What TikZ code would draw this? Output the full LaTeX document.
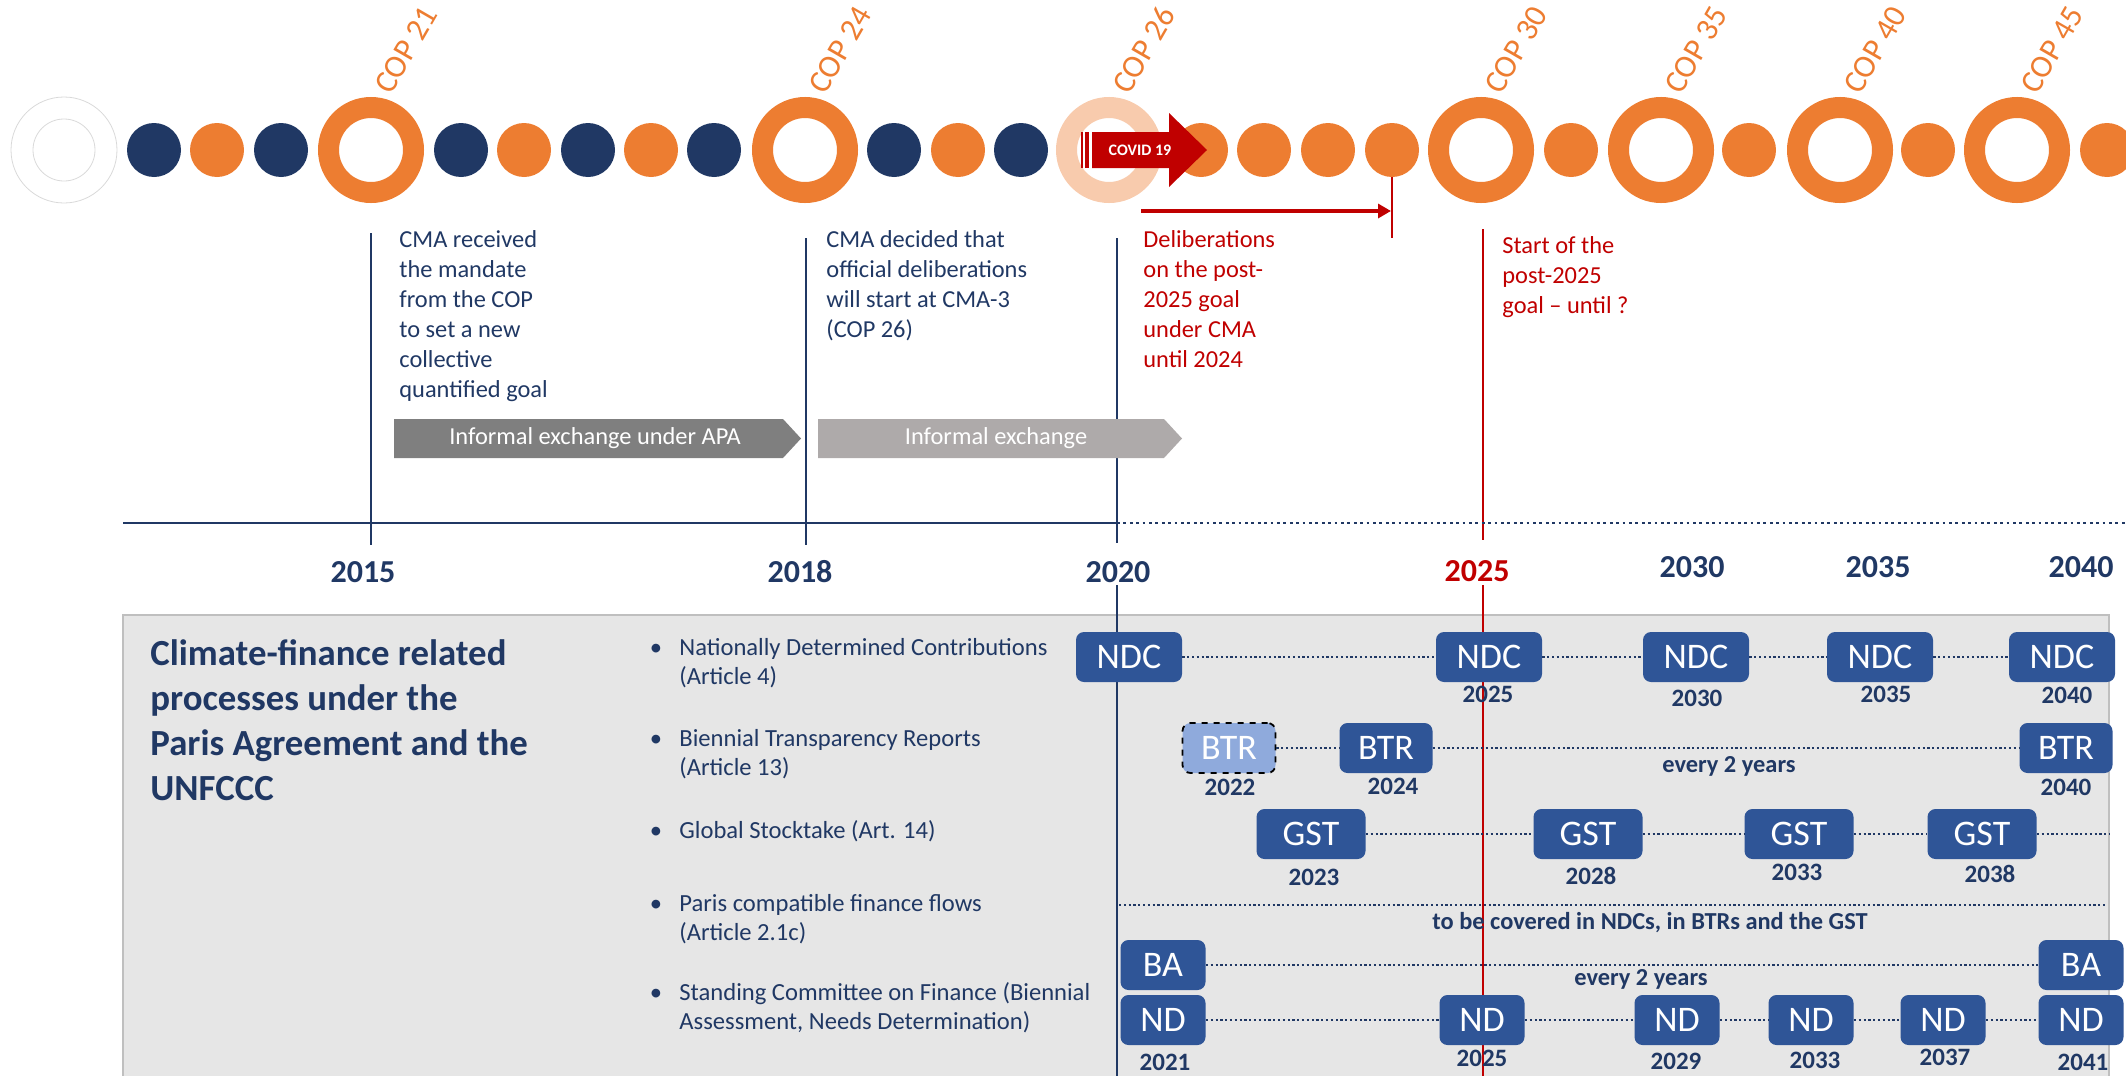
\documentclass[tikz,border=0pt]{standalone}
\usepackage{fontspec}
\setmainfont{Carlito}
\usetikzlibrary{arrows.meta}
\definecolor{navy}{HTML}{203864}
\definecolor{cop}{HTML}{ED7D31}
\definecolor{peach}{HTML}{F8CBAD}
\definecolor{darkred}{HTML}{C00000}
\definecolor{boxblue}{HTML}{2F5597}
\definecolor{lightbtr}{HTML}{8FAADC}
\definecolor{greyA}{HTML}{7F7F7F}
\definecolor{greyB}{HTML}{AEAAAA}
\definecolor{panelfill}{HTML}{E6E6E6}
\definecolor{panelline}{HTML}{BFBFBF}
\newcommand{\setfs}[2]{\fontsize{#1}{#2}\selectfont}
\begin{document}
\begin{tikzpicture}[x=0.5pt,y=-0.5pt,
 ring/.style={circle, fill=white, line width=10.5pt, minimum size=42.5pt, inner sep=0},
 smallc/.style={circle, minimum size=27pt, inner sep=0},
 coplabel/.style={rotate=60, anchor=base west, text=cop, font=\setfs{16}{19}, inner sep=0},
 toptext/.style={anchor=base west, align=left, inner sep=0, font=\setfs{12.2}{15}},
 chevtext/.style={text=white, font=\setfs{12.2}{15}, inner sep=0},
 axisyear/.style={font=\setfs{16}{19}\bfseries, text=navy, inner sep=0},
 vline/.style={navy, line width=1.2pt},
 pbox/.style={rounded corners=4pt, fill=boxblue, text=white, font=\setfs{18}{21}, minimum height=25pt, inner sep=0},
 ylab/.style={text=navy, font=\setfs{12.5}{15}\bfseries, inner sep=0},
 dotc/.style={navy, line width=1.1pt, dash pattern=on 1.1pt off 1.3pt},
 note/.style={text=navy, font=\setfs{12.2}{15}\bfseries, anchor=base, inner sep=0},
 item/.style={anchor=base west, align=left, text=navy, font=\setfs{12.3}{14.5}, inner sep=0},
 bul/.style={anchor=base, text=navy, font=\setfs{12.3}{14.5}, inner sep=0},
]
\useasboundingbox (0,0) rectangle (2126,1076);
\clip (0,0) rectangle (2126,1076);

% ---------- top row of circles ----------
\node[circle, draw=black!15, line width=0.4pt, minimum size=53pt, inner sep=0] (ghostout) at (64,150) {};
\node[circle, draw=black!15, line width=0.4pt, minimum size=31pt, inner sep=0] (ghostin) at (64,150) {};

\foreach \x/\n/\col in {371/21/cop, 805/24/cop, 1109/26/peach, 1481/30/cop, 1661/35/cop, 1840/40/cop, 2017/45/cop}{
  \node[ring, draw=\col] (cop\n) at (\x,150) {};
  \node[coplabel] (lab\n) at (\x+20,96) {COP \n};
}
\foreach \x/\c [count=\i] in {154/navy, 217/cop, 281/navy, 461/navy, 524/cop, 588/navy, 651/cop, 714/navy, 894/navy, 958/cop, 1021/navy, 1201/cop, 1264/cop, 1328/cop, 1392/cop, 1571/cop, 1749/cop, 1928/cop, 2107/cop}{
  \node[smallc, fill=\c] (s\i) at (\x,150) {};
}

% COVID arrow
\fill[darkred] (1092,132) -- (1169,132) -- (1169,113) -- (1207,150) -- (1169,187) -- (1169,168) -- (1092,168) -- cycle;
\fill[darkred] (1081,132) rectangle (1083,168);
\fill[darkred] (1085,132) rectangle (1089,168);
\node[text=white, font=\setfs{8}{10}\bfseries, inner sep=0] (covid) at (1140,150) {COVID 19};

% deliberations arrow
\coordinate (delS) at (1141,211);
\coordinate (delE) at (1391,211);
\coordinate (tickB) at (1392,238);
\draw[darkred, line width=2.2pt, -{Triangle[length=6.5pt, width=7pt]}] (delS) -- (delE);
\draw[darkred, line width=1.2pt] (s15.south) -- (tickB);

% ---------- texts above axis (base anchor = last line baseline) ----------
\node[toptext, text=navy] (t2015) at (399,397) {CMA received\\the mandate\\from the COP\\to set a new\\collective\\quantified goal};
\node[toptext, text=navy] (t2018) at (826,337) {CMA decided that\\official deliberations\\will start at CMA-3\\(COP 26)};
\node[toptext, text=darkred] (t2020) at (1143,367) {Deliberations\\on the post-\\2025 goal\\under CMA\\until 2024};
\node[toptext, text=darkred] (t2025) at (1502,313) {Start of the\\post-2025\\goal -- until ?};

% ---------- vertical lines ----------
\draw[vline] (371,233) -- (371,545);
\draw[vline] (806,238) -- (806,545);
\draw[vline] (1117,238) -- (1117,543);
\draw[darkred, line width=1pt] (1483,229) -- (1483,540);

% ---------- chevrons ----------
\fill[greyA] (394,419) -- (783,419) -- (801,438.5) -- (783,458) -- (394,458) -- cycle;
\node[chevtext] (apa) at (595,438.5) {Informal exchange under APA};
\fill[greyB] (818,419) -- (1164,419) -- (1182,438.5) -- (1164,458) -- (818,458) -- cycle;
\node[chevtext] (infx) at (996,438.5) {Informal exchange};

% ---------- axis ----------
\coordinate (axL) at (123,523);
\coordinate (axM) at (1117,523);
\coordinate (axR) at (2126,523);
\draw[navy, line width=1.4pt] (axL) -- (axM);
\draw[navy, line width=1.4pt, dash pattern=on 1.4pt off 1.8pt] (axM) -- (axR);

\node[axisyear] (y2015) at (363,572) {2015};
\node[axisyear] (y2018) at (800,572) {2018};
\node[axisyear] (y2020) at (1118,572) {2020};
\node[axisyear, text=darkred] (y2025) at (1477,571) {2025};
\node[axisyear] (y2030) at (1692,567) {2030};
\node[axisyear] (y2035) at (1878,567) {2035};
\node[axisyear] (y2040) at (2081,567) {2040};

% ---------- bottom panel ----------
\draw[fill=panelfill, draw=panelline, line width=0.7pt] (123,615) rectangle (2109,1100);
\draw[vline] (1117,585) -- (1117,1080);
\draw[darkred, line width=1pt] (1483,585) -- (1483,1080);

\node[anchor=base west, align=left, text=navy, font=\setfs{18.4}{22.5}\bfseries, inner sep=0] (title) at (150,800)
  {Climate-finance related\\processes under the\\Paris Agreement and the\\UNFCCC};

\foreach \y/\yb/\txt [count=\i] in {655/684/{Nationally Determined Contributions\\(Article 4)},
  746/775/{Biennial Transparency Reports\\(Article 13)},
  838/838/{Global Stocktake (Art. 14)},
  911/940/{Paris compatible finance flows\\(Article 2.1c)},
  1000/1029/{Standing Committee on Finance (Biennial\\Assessment, Needs Determination)}}{
  \node[bul] (b\i) at (656,\y) {\textbullet};
  \node[item] (it\i) at (679,\yb) {\txt};
}

% NDC row
\foreach \x/\n in {1129/a, 1489/b, 1696/c, 1880/d, 2062/e}{
  \node[pbox, minimum width=53pt] (ndc\n) at (\x,657) {NDC};
}
\draw[dotc] (ndca.east) -- (ndcb.west);
\draw[dotc] (ndcb.east) -- (ndcc.west);
\draw[dotc] (ndcc.east) -- (ndcd.west);
\draw[dotc] (ndcd.east) -- (ndce.west);
\node[ylab] (ly1) at (1488,694) {2025};
\node[ylab] (ly2) at (1697,698) {2030};
\node[ylab] (ly3) at (1886,694) {2035};
\node[ylab] (ly4) at (2067,695) {2040};

% BTR row
\node[pbox, minimum width=46.5pt, fill=lightbtr, draw=black, dashed, line width=0.9pt] (btra) at (1229,748) {BTR};
\node[pbox, minimum width=46.5pt] (btrb) at (1386,748) {BTR};
\node[pbox, minimum width=46.5pt] (btrc) at (2066,748) {BTR};
\draw[dotc] (btra.east) -- (btrb.west);
\draw[dotc] (btrb.east) -- (btrc.west);
\node[ylab] (ly5) at (1230,787) {2022};
\node[ylab] (ly6) at (1393,786) {2024};
\node[ylab] (ly7) at (2066,787) {2040};
\node[note] (ev1) at (1729,772) {every 2 years};

% GST row
\foreach \x/\n in {1311/a, 1588/b, 1799/c, 1982/d}{
  \node[pbox, minimum width=54.5pt] (gst\n) at (\x,834) {GST};
}
\coordinate (gstEnd) at (2109,834);
\draw[dotc] (gsta.east) -- (gstb.west);
\draw[dotc] (gstb.east) -- (gstc.west);
\draw[dotc] (gstc.east) -- (gstd.west);
\draw[dotc] (gstd.east) -- (gstEnd);
\node[ylab] (ly8) at (1314,877) {2023};
\node[ylab] (ly9) at (1591,876) {2028};
\node[ylab] (ly10) at (1797,872) {2033};
\node[ylab] (ly11) at (1990,874) {2038};

% Paris flows
\coordinate (pfS) at (1119,905);
\coordinate (pfE) at (2107,905);
\draw[dotc] (pfS) -- (pfE);
\node[note] (pfnote) at (1650,929) {to be covered in NDCs, in BTRs and the GST};

% BA row
\node[pbox, minimum width=42.5pt] (baa) at (1163,965) {BA};
\node[pbox, minimum width=42.5pt] (bab) at (2081,965) {BA};
\draw[dotc] (baa.east) -- (bab.west);
\node[note] (ev2) at (1641,985) {every 2 years};

% ND row
\foreach \x/\n in {1163/a, 1482/b, 1677/c, 1811/d, 1943/e, 2081/f}{
  \node[pbox, minimum width=42.5pt] (nd\n) at (\x,1020) {ND};
}
\draw[dotc] (nda.east) -- (ndb.west);
\draw[dotc] (ndb.east) -- (ndc.west);
\draw[dotc] (ndc.east) -- (ndd.west);
\draw[dotc] (ndd.east) -- (nde.west);
\draw[dotc] (nde.east) -- (ndf.west);
\node[ylab] (ly12) at (1165,1062) {2021};
\node[ylab] (ly13) at (1482,1058) {2025};
\node[ylab] (ly14) at (1676,1061) {2029};
\node[ylab] (ly15) at (1815,1060) {2033};
\node[ylab] (ly16) at (1945,1057) {2037};
\node[ylab] (ly17) at (2083,1062) {2041};
\end{tikzpicture}
\end{document}
